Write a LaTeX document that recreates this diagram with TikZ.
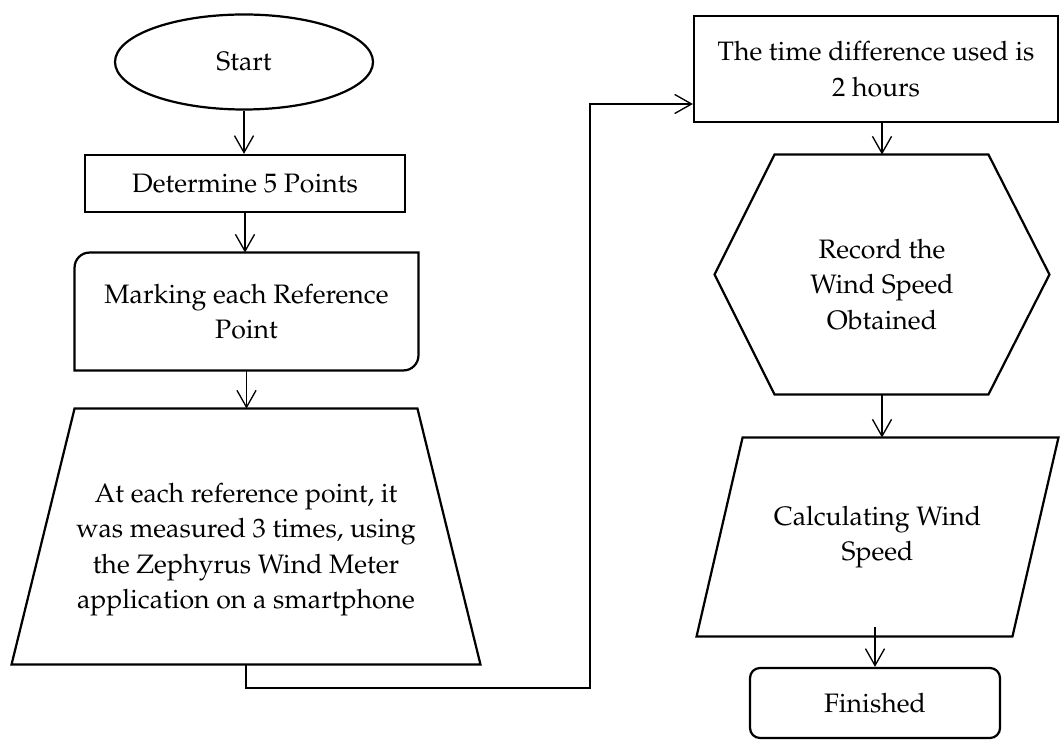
\documentclass[tikz,border=0pt]{standalone}
\usepackage[T1]{fontenc}
\usepackage{mathpazo}
\usetikzlibrary{arrows.meta,shapes.geometric,calc}
\newcommand{\pxunit}{0.45pt}

\begin{document}
\begin{tikzpicture}[
    x=\pxunit, y=-\pxunit,
    font=\fontsize{12}{16}\selectfont,
    shapeline/.style={line width=1pt},
    box/.style={draw, shapeline, align=center, inner sep=0pt},
    txt/.style={align=center, inner sep=0pt},
    arr/.style={-{Straight Barb[length=7.6pt,width=8.6pt]}, line width=0.6pt}
  ]
    \useasboundingbox (0,0) rectangle (1060,740);

    % left column
    \node[box, ellipse, minimum width=258*\pxunit, minimum height=95*\pxunit] (start) at (244,62) {Start};
    \node[box, minimum width=320*\pxunit, minimum height=57*\pxunit] (det) at (245,183.5) {Determine 5 Points};
    \node[txt, minimum width=343*\pxunit, minimum height=117*\pxunit] (mark) at (246.5,311.5) {Marking each Reference\\Point};
    \draw[shapeline] (mark.south west) -- ($(mark.north west)+(0,15)$) arc[start angle=180, end angle=90, radius=6.75pt]
      -- (mark.north east) -- ($(mark.south east)+(0,-15)$) arc[start angle=0, end angle=-90, radius=6.75pt] -- cycle;
    \node[txt, minimum width=468*\pxunit, minimum height=255*\pxunit,
      label={[txt, yshift=-13*\pxunit]center:At each reference point, it\\was measured 3 times, using\\the Zephyrus Wind Meter\\application on a smartphone}] (trap) at (246,536.5) {};
    \draw[shapeline] ($(trap.north west)+(63,0)$) -- ($(trap.north east)+(-63,0)$) -- (trap.south east) -- (trap.south west) -- cycle;

    % right column
    \node[box, minimum width=364*\pxunit, minimum height=106*\pxunit] (time) at (876,69) {The time difference used is\\2 hours};
    \node[txt, minimum width=334*\pxunit, minimum height=239*\pxunit,
      label={[txt, yshift=-10*\pxunit]center:Record the\\Wind Speed\\Obtained}] (hex) at (882,274.5) {};
    \draw[shapeline] ($(hex.north west)+(60,0)$) -- ($(hex.north east)+(-61,0)$) -- (hex.east)
      -- ($(hex.south east)+(-61,0)$) -- ($(hex.south west)+(60,0)$) -- (hex.west) -- cycle;
    \node[txt, minimum width=361*\pxunit, minimum height=198*\pxunit] (para) at (877.5,537) {Calculating Wind\\Speed};
    \draw[shapeline] ($(para.north west)+(46,0)$) -- (para.north east) -- ($(para.south east)+(-46,0)$) -- (para.south west) -- cycle;
    \node[box, rounded corners=4.5pt, minimum width=250*\pxunit, minimum height=70*\pxunit] (fin) at (875,703) {Finished};

    % connectors
    \draw[arr] (start.south) -- (start.south |- det.north);
    \draw[arr] (det.south) -- (det.south |- mark.north);
    \draw[arr] (mark.south) -- (mark.south |- trap.north);
    \coordinate (route) at (590,688);
    \draw[arr] (trap.south) |- (route) |- ($(time.west)+(0,35)$);
    \draw[arr] (hex.north |- time.south) -- (hex.north);
    \draw[arr] (hex.south) -- (hex.south |- para.north);
    \draw[arr] ($(fin.north |- para.south)+(0,-9)$) -- (fin.north);
\end{tikzpicture}
\end{document}
